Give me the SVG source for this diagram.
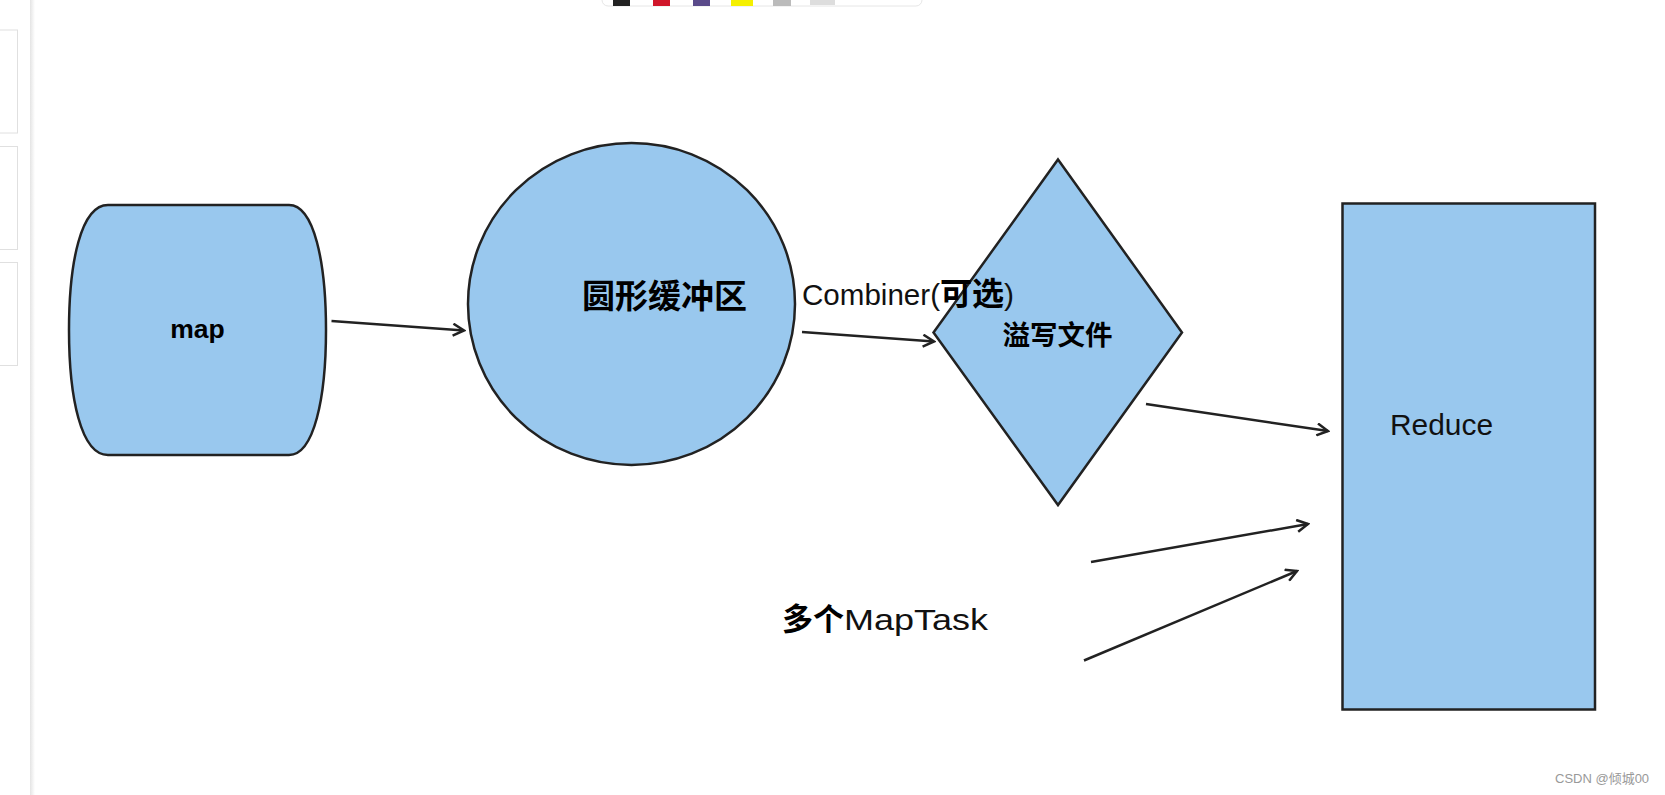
<svg xmlns="http://www.w3.org/2000/svg" width="1665" height="795" viewBox="0 0 1665 795">
<style>
.shape{fill:#99c8ee;stroke:#222;stroke-width:2.5}
.conn{stroke:#222;stroke-width:2.5;fill:none;marker-end:url(#arr)}
.cjkb{font-family:"Liberation Sans","Noto Sans CJK SC",sans-serif;font-weight:bold;fill:#000}
.hand{font-family:"Liberation Sans","Noto Sans CJK SC",sans-serif;fill:#111}
.panel{fill:#fff;stroke:#e0e0e0;stroke-width:1}
</style>
<defs>
<marker id="arr" viewBox="0 0 14 14" refX="12" refY="7" markerWidth="14" markerHeight="14" markerUnits="userSpaceOnUse" orient="auto">
<path d="M1,1 L12,7 L1,13" fill="none" stroke="#222" stroke-width="2.5"/>
</marker>
<linearGradient id="sh" x1="0" x2="1" y1="0" y2="0">
<stop offset="0" stop-color="#e4e4e4"/><stop offset="1" stop-color="#ffffff"/>
</linearGradient>
</defs>
<rect width="1665" height="795" fill="#fff"/>
<g id="ui">
<rect x="30" y="0" width="5" height="795" fill="url(#sh)"/>
<rect x="-2" y="30" width="19.5" height="103" class="panel"/>
<rect x="-2" y="146.5" width="19.5" height="103" class="panel"/>
<rect x="-2" y="262.5" width="19.5" height="103" class="panel"/>
<rect x="602" y="-10" width="320" height="16" rx="6" fill="#fff" stroke="#e6e6e6"/>
<rect x="613" y="0" width="17" height="6" fill="#222"/>
<rect x="653" y="0" width="17" height="6" fill="#d0162a"/>
<rect x="693" y="0" width="17" height="6" fill="#5a4a8a"/>
<rect x="731" y="0" width="22" height="6" fill="#f5f000"/>
<rect x="773" y="0" width="18" height="6" fill="#bbb"/>
<rect x="810" y="0" width="25" height="5" fill="#ddd"/>
</g>
<g id="connectors">
<line class="conn" x1="331.5" y1="321" x2="464" y2="330.5"/>
<line class="conn" x1="802" y1="332" x2="934" y2="341.5"/>
<line class="conn" x1="1146" y1="404" x2="1328" y2="431"/>
<line class="conn" x1="1091" y1="562" x2="1308" y2="524"/>
<line class="conn" x1="1084" y1="660.5" x2="1297" y2="571"/>
</g>
<g id="map">
<path class="shape" d="M108,205 L289,205 C314,205 326,262 326,330 C326,398 314,455 289,455 L108,455 C81,455 69,398 69,330 C69,262 81,205 108,205 Z"/>
<text class="cjkb" x="197.5" y="338" font-size="26.5" text-anchor="middle">map</text>
</g>
<g id="buffer">
<ellipse class="shape" cx="631.5" cy="304" rx="163.5" ry="161"/>
<text class="cjkb" x="664.5" y="308" font-size="33" text-anchor="middle">圆形缓冲区</text>
</g>
<g id="spill">
<polygon class="shape" points="1058,159.5 1182,332.5 1058,505 933.5,332.5"/>
<text class="cjkb" x="1057.5" y="345" font-size="27.5" text-anchor="middle">溢写文件</text>
</g>
<g id="reduce">
<rect class="shape" x="1342.5" y="203.5" width="252.5" height="506"/>
<text class="hand" x="1390" y="435" font-size="30" textLength="103" lengthAdjust="spacingAndGlyphs">Reduce</text>
</g>
<g id="labels">
<text class="hand" x="802" y="305" font-size="30"><tspan textLength="138" lengthAdjust="spacingAndGlyphs">Combiner(</tspan><tspan class="cjkb" font-size="32">可选</tspan><tspan>)</tspan></text>
<text x="782" y="630"><tspan class="cjkb" font-size="31">多个</tspan><tspan class="hand" font-size="30" textLength="144" lengthAdjust="spacingAndGlyphs">MapTask</tspan></text>
</g>
<text x="1555" y="783" font-family="Liberation Sans,'Noto Sans CJK SC',sans-serif" font-size="13" fill="#999">CSDN @倾城00</text>
</svg>
